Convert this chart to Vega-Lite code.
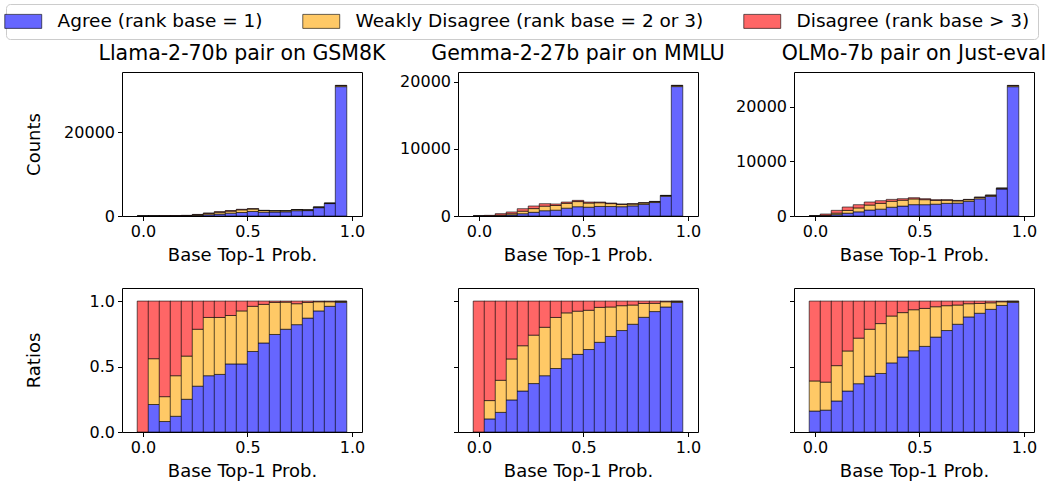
{
  "$schema": "https://vega.github.io/schema/vega-lite/v6.json",
  "padding": {"left": 5, "top": 3, "right": 5, "bottom": 5},
  "datasets": {
    "d": [
      {"model":"Llama-2-70b","prob":0,"cat":"Agree (rank base = 1)","count":0,"ratio":0},
      {"model":"Llama-2-70b","prob":0,"cat":"Weakly Disagree (rank base = 2 or 3)","count":0,"ratio":0},
      {"model":"Llama-2-70b","prob":0,"cat":"Disagree (rank base > 3)","count":10,"ratio":1},
      {"model":"Llama-2-70b","prob":0.0526,"cat":"Agree (rank base = 1)","count":6,"ratio":0.21},
      {"model":"Llama-2-70b","prob":0.0526,"cat":"Weakly Disagree (rank base = 2 or 3)","count":11,"ratio":0.35},
      {"model":"Llama-2-70b","prob":0.0526,"cat":"Disagree (rank base > 3)","count":13,"ratio":0.44},
      {"model":"Llama-2-70b","prob":0.1053,"cat":"Agree (rank base = 1)","count":5,"ratio":0.08},
      {"model":"Llama-2-70b","prob":0.1053,"cat":"Weakly Disagree (rank base = 2 or 3)","count":11,"ratio":0.19},
      {"model":"Llama-2-70b","prob":0.1053,"cat":"Disagree (rank base > 3)","count":44,"ratio":0.73},
      {"model":"Llama-2-70b","prob":0.1579,"cat":"Agree (rank base = 1)","count":11,"ratio":0.12},
      {"model":"Llama-2-70b","prob":0.1579,"cat":"Weakly Disagree (rank base = 2 or 3)","count":28,"ratio":0.31},
      {"model":"Llama-2-70b","prob":0.1579,"cat":"Disagree (rank base > 3)","count":51,"ratio":0.57},
      {"model":"Llama-2-70b","prob":0.2105,"cat":"Agree (rank base = 1)","count":40,"ratio":0.25},
      {"model":"Llama-2-70b","prob":0.2105,"cat":"Weakly Disagree (rank base = 2 or 3)","count":53,"ratio":0.33},
      {"model":"Llama-2-70b","prob":0.2105,"cat":"Disagree (rank base > 3)","count":67,"ratio":0.42},
      {"model":"Llama-2-70b","prob":0.2632,"cat":"Agree (rank base = 1)","count":133,"ratio":0.35},
      {"model":"Llama-2-70b","prob":0.2632,"cat":"Weakly Disagree (rank base = 2 or 3)","count":165,"ratio":0.435},
      {"model":"Llama-2-70b","prob":0.2632,"cat":"Disagree (rank base > 3)","count":82,"ratio":0.215},
      {"model":"Llama-2-70b","prob":0.3158,"cat":"Agree (rank base = 1)","count":305,"ratio":0.43},
      {"model":"Llama-2-70b","prob":0.3158,"cat":"Weakly Disagree (rank base = 2 or 3)","count":316,"ratio":0.445},
      {"model":"Llama-2-70b","prob":0.3158,"cat":"Disagree (rank base > 3)","count":89,"ratio":0.125},
      {"model":"Llama-2-70b","prob":0.3684,"cat":"Agree (rank base = 1)","count":453,"ratio":0.44},
      {"model":"Llama-2-70b","prob":0.3684,"cat":"Weakly Disagree (rank base = 2 or 3)","count":448,"ratio":0.435},
      {"model":"Llama-2-70b","prob":0.3684,"cat":"Disagree (rank base > 3)","count":129,"ratio":0.125},
      {"model":"Llama-2-70b","prob":0.4211,"cat":"Agree (rank base = 1)","count":676,"ratio":0.52},
      {"model":"Llama-2-70b","prob":0.4211,"cat":"Weakly Disagree (rank base = 2 or 3)","count":481,"ratio":0.37},
      {"model":"Llama-2-70b","prob":0.4211,"cat":"Disagree (rank base > 3)","count":143,"ratio":0.11},
      {"model":"Llama-2-70b","prob":0.4737,"cat":"Agree (rank base = 1)","count":832,"ratio":0.52},
      {"model":"Llama-2-70b","prob":0.4737,"cat":"Weakly Disagree (rank base = 2 or 3)","count":648,"ratio":0.405},
      {"model":"Llama-2-70b","prob":0.4737,"cat":"Disagree (rank base > 3)","count":120,"ratio":0.075},
      {"model":"Llama-2-70b","prob":0.5263,"cat":"Agree (rank base = 1)","count":1076,"ratio":0.615},
      {"model":"Llama-2-70b","prob":0.5263,"cat":"Weakly Disagree (rank base = 2 or 3)","count":604,"ratio":0.345},
      {"model":"Llama-2-70b","prob":0.5263,"cat":"Disagree (rank base > 3)","count":70,"ratio":0.04},
      {"model":"Llama-2-70b","prob":0.5789,"cat":"Agree (rank base = 1)","count":918,"ratio":0.68},
      {"model":"Llama-2-70b","prob":0.5789,"cat":"Weakly Disagree (rank base = 2 or 3)","count":398,"ratio":0.295},
      {"model":"Llama-2-70b","prob":0.5789,"cat":"Disagree (rank base > 3)","count":34,"ratio":0.025},
      {"model":"Llama-2-70b","prob":0.6316,"cat":"Agree (rank base = 1)","count":946,"ratio":0.745},
      {"model":"Llama-2-70b","prob":0.6316,"cat":"Weakly Disagree (rank base = 2 or 3)","count":311,"ratio":0.245},
      {"model":"Llama-2-70b","prob":0.6316,"cat":"Disagree (rank base > 3)","count":13,"ratio":0.01},
      {"model":"Llama-2-70b","prob":0.6842,"cat":"Agree (rank base = 1)","count":997,"ratio":0.785},
      {"model":"Llama-2-70b","prob":0.6842,"cat":"Weakly Disagree (rank base = 2 or 3)","count":263,"ratio":0.207},
      {"model":"Llama-2-70b","prob":0.6842,"cat":"Disagree (rank base > 3)","count":10,"ratio":0.008},
      {"model":"Llama-2-70b","prob":0.7368,"cat":"Agree (rank base = 1)","count":1271,"ratio":0.82},
      {"model":"Llama-2-70b","prob":0.7368,"cat":"Weakly Disagree (rank base = 2 or 3)","count":248,"ratio":0.16},
      {"model":"Llama-2-70b","prob":0.7368,"cat":"Disagree (rank base > 3)","count":31,"ratio":0.02},
      {"model":"Llama-2-70b","prob":0.7895,"cat":"Agree (rank base = 1)","count":1288,"ratio":0.87},
      {"model":"Llama-2-70b","prob":0.7895,"cat":"Weakly Disagree (rank base = 2 or 3)","count":178,"ratio":0.12},
      {"model":"Llama-2-70b","prob":0.7895,"cat":"Disagree (rank base > 3)","count":14,"ratio":0.01},
      {"model":"Llama-2-70b","prob":0.8421,"cat":"Agree (rank base = 1)","count":1989,"ratio":0.925},
      {"model":"Llama-2-70b","prob":0.8421,"cat":"Weakly Disagree (rank base = 2 or 3)","count":150,"ratio":0.07},
      {"model":"Llama-2-70b","prob":0.8421,"cat":"Disagree (rank base > 3)","count":11,"ratio":0.005},
      {"model":"Llama-2-70b","prob":0.8947,"cat":"Agree (rank base = 1)","count":2966,"ratio":0.96},
      {"model":"Llama-2-70b","prob":0.8947,"cat":"Weakly Disagree (rank base = 2 or 3)","count":108,"ratio":0.035},
      {"model":"Llama-2-70b","prob":0.8947,"cat":"Disagree (rank base > 3)","count":16,"ratio":0.005},
      {"model":"Llama-2-70b","prob":0.9474,"cat":"Agree (rank base = 1)","count":30868,"ratio":0.99},
      {"model":"Llama-2-70b","prob":0.9474,"cat":"Weakly Disagree (rank base = 2 or 3)","count":249,"ratio":0.008},
      {"model":"Llama-2-70b","prob":0.9474,"cat":"Disagree (rank base > 3)","count":63,"ratio":0.002},

      {"model":"Gemma-2-27b","prob":0,"cat":"Agree (rank base = 1)","count":0,"ratio":0},
      {"model":"Gemma-2-27b","prob":0,"cat":"Weakly Disagree (rank base = 2 or 3)","count":0,"ratio":0},
      {"model":"Gemma-2-27b","prob":0,"cat":"Disagree (rank base > 3)","count":10,"ratio":1},
      {"model":"Gemma-2-27b","prob":0.0526,"cat":"Agree (rank base = 1)","count":10,"ratio":0.10},
      {"model":"Gemma-2-27b","prob":0.0526,"cat":"Weakly Disagree (rank base = 2 or 3)","count":14,"ratio":0.14},
      {"model":"Gemma-2-27b","prob":0.0526,"cat":"Disagree (rank base > 3)","count":76,"ratio":0.76},
      {"model":"Gemma-2-27b","prob":0.1053,"cat":"Agree (rank base = 1)","count":53,"ratio":0.15},
      {"model":"Gemma-2-27b","prob":0.1053,"cat":"Weakly Disagree (rank base = 2 or 3)","count":86,"ratio":0.245},
      {"model":"Gemma-2-27b","prob":0.1053,"cat":"Disagree (rank base > 3)","count":211,"ratio":0.605},
      {"model":"Gemma-2-27b","prob":0.1579,"cat":"Agree (rank base = 1)","count":147,"ratio":0.245},
      {"model":"Gemma-2-27b","prob":0.1579,"cat":"Weakly Disagree (rank base = 2 or 3)","count":188,"ratio":0.313},
      {"model":"Gemma-2-27b","prob":0.1579,"cat":"Disagree (rank base > 3)","count":265,"ratio":0.442},
      {"model":"Gemma-2-27b","prob":0.2105,"cat":"Agree (rank base = 1)","count":341,"ratio":0.313},
      {"model":"Gemma-2-27b","prob":0.2105,"cat":"Weakly Disagree (rank base = 2 or 3)","count":377,"ratio":0.346},
      {"model":"Gemma-2-27b","prob":0.2105,"cat":"Disagree (rank base > 3)","count":372,"ratio":0.341},
      {"model":"Gemma-2-27b","prob":0.2632,"cat":"Agree (rank base = 1)","count":551,"ratio":0.37},
      {"model":"Gemma-2-27b","prob":0.2632,"cat":"Weakly Disagree (rank base = 2 or 3)","count":551,"ratio":0.37},
      {"model":"Gemma-2-27b","prob":0.2632,"cat":"Disagree (rank base > 3)","count":388,"ratio":0.26},
      {"model":"Gemma-2-27b","prob":0.3158,"cat":"Agree (rank base = 1)","count":789,"ratio":0.43},
      {"model":"Gemma-2-27b","prob":0.3158,"cat":"Weakly Disagree (rank base = 2 or 3)","count":679,"ratio":0.37},
      {"model":"Gemma-2-27b","prob":0.3158,"cat":"Disagree (rank base > 3)","count":367,"ratio":0.2},
      {"model":"Gemma-2-27b","prob":0.3684,"cat":"Agree (rank base = 1)","count":868,"ratio":0.485},
      {"model":"Gemma-2-27b","prob":0.3684,"cat":"Weakly Disagree (rank base = 2 or 3)","count":698,"ratio":0.39},
      {"model":"Gemma-2-27b","prob":0.3684,"cat":"Disagree (rank base > 3)","count":224,"ratio":0.125},
      {"model":"Gemma-2-27b","prob":0.4211,"cat":"Agree (rank base = 1)","count":1165,"ratio":0.56},
      {"model":"Gemma-2-27b","prob":0.4211,"cat":"Weakly Disagree (rank base = 2 or 3)","count":728,"ratio":0.35},
      {"model":"Gemma-2-27b","prob":0.4211,"cat":"Disagree (rank base > 3)","count":187,"ratio":0.09},
      {"model":"Gemma-2-27b","prob":0.4737,"cat":"Agree (rank base = 1)","count":1382,"ratio":0.593},
      {"model":"Gemma-2-27b","prob":0.4737,"cat":"Weakly Disagree (rank base = 2 or 3)","count":769,"ratio":0.33},
      {"model":"Gemma-2-27b","prob":0.4737,"cat":"Disagree (rank base > 3)","count":179,"ratio":0.077},
      {"model":"Gemma-2-27b","prob":0.5263,"cat":"Agree (rank base = 1)","count":1310,"ratio":0.63},
      {"model":"Gemma-2-27b","prob":0.5263,"cat":"Weakly Disagree (rank base = 2 or 3)","count":624,"ratio":0.3},
      {"model":"Gemma-2-27b","prob":0.5263,"cat":"Disagree (rank base > 3)","count":146,"ratio":0.07},
      {"model":"Gemma-2-27b","prob":0.5789,"cat":"Agree (rank base = 1)","count":1425,"ratio":0.685},
      {"model":"Gemma-2-27b","prob":0.5789,"cat":"Weakly Disagree (rank base = 2 or 3)","count":555,"ratio":0.267},
      {"model":"Gemma-2-27b","prob":0.5789,"cat":"Disagree (rank base > 3)","count":100,"ratio":0.048},
      {"model":"Gemma-2-27b","prob":0.6316,"cat":"Agree (rank base = 1)","count":1413,"ratio":0.73},
      {"model":"Gemma-2-27b","prob":0.6316,"cat":"Weakly Disagree (rank base = 2 or 3)","count":435,"ratio":0.225},
      {"model":"Gemma-2-27b","prob":0.6316,"cat":"Disagree (rank base > 3)","count":87,"ratio":0.045},
      {"model":"Gemma-2-27b","prob":0.6842,"cat":"Agree (rank base = 1)","count":1387,"ratio":0.775},
      {"model":"Gemma-2-27b","prob":0.6842,"cat":"Weakly Disagree (rank base = 2 or 3)","count":340,"ratio":0.19},
      {"model":"Gemma-2-27b","prob":0.6842,"cat":"Disagree (rank base > 3)","count":63,"ratio":0.035},
      {"model":"Gemma-2-27b","prob":0.7368,"cat":"Agree (rank base = 1)","count":1510,"ratio":0.823},
      {"model":"Gemma-2-27b","prob":0.7368,"cat":"Weakly Disagree (rank base = 2 or 3)","count":270,"ratio":0.147},
      {"model":"Gemma-2-27b","prob":0.7368,"cat":"Disagree (rank base > 3)","count":55,"ratio":0.03},
      {"model":"Gemma-2-27b","prob":0.7895,"cat":"Agree (rank base = 1)","count":1739,"ratio":0.876},
      {"model":"Gemma-2-27b","prob":0.7895,"cat":"Weakly Disagree (rank base = 2 or 3)","count":210,"ratio":0.106},
      {"model":"Gemma-2-27b","prob":0.7895,"cat":"Disagree (rank base > 3)","count":36,"ratio":0.018},
      {"model":"Gemma-2-27b","prob":0.8421,"cat":"Agree (rank base = 1)","count":2006,"ratio":0.92},
      {"model":"Gemma-2-27b","prob":0.8421,"cat":"Weakly Disagree (rank base = 2 or 3)","count":137,"ratio":0.063},
      {"model":"Gemma-2-27b","prob":0.8421,"cat":"Disagree (rank base > 3)","count":37,"ratio":0.017},
      {"model":"Gemma-2-27b","prob":0.8947,"cat":"Agree (rank base = 1)","count":2937,"ratio":0.955},
      {"model":"Gemma-2-27b","prob":0.8947,"cat":"Weakly Disagree (rank base = 2 or 3)","count":123,"ratio":0.04},
      {"model":"Gemma-2-27b","prob":0.8947,"cat":"Disagree (rank base > 3)","count":15,"ratio":0.005},
      {"model":"Gemma-2-27b","prob":0.9474,"cat":"Agree (rank base = 1)","count":19295,"ratio":0.99},
      {"model":"Gemma-2-27b","prob":0.9474,"cat":"Weakly Disagree (rank base = 2 or 3)","count":156,"ratio":0.008},
      {"model":"Gemma-2-27b","prob":0.9474,"cat":"Disagree (rank base > 3)","count":39,"ratio":0.002},

      {"model":"OLMo-7b","prob":0,"cat":"Agree (rank base = 1)","count":3,"ratio":0.16},
      {"model":"OLMo-7b","prob":0,"cat":"Weakly Disagree (rank base = 2 or 3)","count":5,"ratio":0.23},
      {"model":"OLMo-7b","prob":0,"cat":"Disagree (rank base > 3)","count":12,"ratio":0.61},
      {"model":"OLMo-7b","prob":0.0526,"cat":"Agree (rank base = 1)","count":61,"ratio":0.167},
      {"model":"OLMo-7b","prob":0.0526,"cat":"Weakly Disagree (rank base = 2 or 3)","count":78,"ratio":0.214},
      {"model":"OLMo-7b","prob":0.0526,"cat":"Disagree (rank base > 3)","count":226,"ratio":0.619},
      {"model":"OLMo-7b","prob":0.1053,"cat":"Agree (rank base = 1)","count":245,"ratio":0.237},
      {"model":"OLMo-7b","prob":0.1053,"cat":"Weakly Disagree (rank base = 2 or 3)","count":280,"ratio":0.27},
      {"model":"OLMo-7b","prob":0.1053,"cat":"Disagree (rank base > 3)","count":510,"ratio":0.493},
      {"model":"OLMo-7b","prob":0.1579,"cat":"Agree (rank base = 1)","count":515,"ratio":0.313},
      {"model":"OLMo-7b","prob":0.1579,"cat":"Weakly Disagree (rank base = 2 or 3)","count":503,"ratio":0.306},
      {"model":"OLMo-7b","prob":0.1579,"cat":"Disagree (rank base > 3)","count":627,"ratio":0.381},
      {"model":"OLMo-7b","prob":0.2105,"cat":"Agree (rank base = 1)","count":764,"ratio":0.369},
      {"model":"OLMo-7b","prob":0.2105,"cat":"Weakly Disagree (rank base = 2 or 3)","count":720,"ratio":0.348},
      {"model":"OLMo-7b","prob":0.2105,"cat":"Disagree (rank base > 3)","count":586,"ratio":0.283},
      {"model":"OLMo-7b","prob":0.2632,"cat":"Agree (rank base = 1)","count":1093,"ratio":0.427},
      {"model":"OLMo-7b","prob":0.2632,"cat":"Weakly Disagree (rank base = 2 or 3)","count":916,"ratio":0.358},
      {"model":"OLMo-7b","prob":0.2632,"cat":"Disagree (rank base > 3)","count":551,"ratio":0.215},
      {"model":"OLMo-7b","prob":0.3158,"cat":"Agree (rank base = 1)","count":1252,"ratio":0.447},
      {"model":"OLMo-7b","prob":0.3158,"cat":"Weakly Disagree (rank base = 2 or 3)","count":1067,"ratio":0.381},
      {"model":"OLMo-7b","prob":0.3158,"cat":"Disagree (rank base > 3)","count":481,"ratio":0.172},
      {"model":"OLMo-7b","prob":0.3684,"cat":"Agree (rank base = 1)","count":1608,"ratio":0.528},
      {"model":"OLMo-7b","prob":0.3684,"cat":"Weakly Disagree (rank base = 2 or 3)","count":1090,"ratio":0.358},
      {"model":"OLMo-7b","prob":0.3684,"cat":"Disagree (rank base > 3)","count":347,"ratio":0.114},
      {"model":"OLMo-7b","prob":0.4211,"cat":"Agree (rank base = 1)","count":1816,"ratio":0.573},
      {"model":"OLMo-7b","prob":0.4211,"cat":"Weakly Disagree (rank base = 2 or 3)","count":1075,"ratio":0.339},
      {"model":"OLMo-7b","prob":0.4211,"cat":"Disagree (rank base > 3)","count":279,"ratio":0.088},
      {"model":"OLMo-7b","prob":0.4737,"cat":"Agree (rank base = 1)","count":2080,"ratio":0.621},
      {"model":"OLMo-7b","prob":0.4737,"cat":"Weakly Disagree (rank base = 2 or 3)","count":1049,"ratio":0.313},
      {"model":"OLMo-7b","prob":0.4737,"cat":"Disagree (rank base > 3)","count":221,"ratio":0.066},
      {"model":"OLMo-7b","prob":0.5263,"cat":"Agree (rank base = 1)","count":2073,"ratio":0.654},
      {"model":"OLMo-7b","prob":0.5263,"cat":"Weakly Disagree (rank base = 2 or 3)","count":919,"ratio":0.29},
      {"model":"OLMo-7b","prob":0.5263,"cat":"Disagree (rank base > 3)","count":178,"ratio":0.056},
      {"model":"OLMo-7b","prob":0.5789,"cat":"Agree (rank base = 1)","count":2164,"ratio":0.725},
      {"model":"OLMo-7b","prob":0.5789,"cat":"Weakly Disagree (rank base = 2 or 3)","count":693,"ratio":0.232},
      {"model":"OLMo-7b","prob":0.5789,"cat":"Disagree (rank base > 3)","count":128,"ratio":0.043},
      {"model":"OLMo-7b","prob":0.6316,"cat":"Agree (rank base = 1)","count":2313,"ratio":0.775},
      {"model":"OLMo-7b","prob":0.6316,"cat":"Weakly Disagree (rank base = 2 or 3)","count":567,"ratio":0.19},
      {"model":"OLMo-7b","prob":0.6316,"cat":"Disagree (rank base > 3)","count":105,"ratio":0.035},
      {"model":"OLMo-7b","prob":0.6842,"cat":"Agree (rank base = 1)","count":2354,"ratio":0.823},
      {"model":"OLMo-7b","prob":0.6842,"cat":"Weakly Disagree (rank base = 2 or 3)","count":420,"ratio":0.147},
      {"model":"OLMo-7b","prob":0.6842,"cat":"Disagree (rank base > 3)","count":86,"ratio":0.03},
      {"model":"OLMo-7b","prob":0.7368,"cat":"Agree (rank base = 1)","count":2677,"ratio":0.879},
      {"model":"OLMo-7b","prob":0.7368,"cat":"Weakly Disagree (rank base = 2 or 3)","count":308,"ratio":0.101},
      {"model":"OLMo-7b","prob":0.7368,"cat":"Disagree (rank base > 3)","count":61,"ratio":0.02},
      {"model":"OLMo-7b","prob":0.7895,"cat":"Agree (rank base = 1)","count":3147,"ratio":0.907},
      {"model":"OLMo-7b","prob":0.7895,"cat":"Weakly Disagree (rank base = 2 or 3)","count":260,"ratio":0.075},
      {"model":"OLMo-7b","prob":0.7895,"cat":"Disagree (rank base > 3)","count":63,"ratio":0.018},
      {"model":"OLMo-7b","prob":0.8421,"cat":"Agree (rank base = 1)","count":3593,"ratio":0.937},
      {"model":"OLMo-7b","prob":0.8421,"cat":"Weakly Disagree (rank base = 2 or 3)","count":192,"ratio":0.05},
      {"model":"OLMo-7b","prob":0.8421,"cat":"Disagree (rank base > 3)","count":50,"ratio":0.013},
      {"model":"OLMo-7b","prob":0.8947,"cat":"Agree (rank base = 1)","count":4946,"ratio":0.967},
      {"model":"OLMo-7b","prob":0.8947,"cat":"Weakly Disagree (rank base = 2 or 3)","count":143,"ratio":0.028},
      {"model":"OLMo-7b","prob":0.8947,"cat":"Disagree (rank base > 3)","count":26,"ratio":0.005},
      {"model":"OLMo-7b","prob":0.9474,"cat":"Agree (rank base = 1)","count":23690,"ratio":0.99},
      {"model":"OLMo-7b","prob":0.9474,"cat":"Weakly Disagree (rank base = 2 or 3)","count":192,"ratio":0.008},
      {"model":"OLMo-7b","prob":0.9474,"cat":"Disagree (rank base > 3)","count":48,"ratio":0.002}
    ]
  },
  "data": {"name": "d"},
  "transform": [{"calculate": "indexof(['Agree (rank base = 1)', 'Weakly Disagree (rank base = 2 or 3)', 'Disagree (rank base > 3)'], datum.cat)", "as": "stackorder"}],
  "columns": 3,
  "bounds": "flush",
  "spacing": {"row": 72, "column": 96},
  "resolve": {"scale": {"color": "shared", "x": "independent", "y": "independent"}, "legend": {"color": "shared"}},
  "config": {
    "font": "DejaVu Sans",
    "view": {"stroke": "black", "strokeWidth": 1, "fill": "white"},
    "axis": {"domain": false, "grid": false, "labelFontSize": 16, "titleFontSize": 18, "labelColor": "black", "titleColor": "black", "tickColor": "black", "tickSize": 4.5, "labelPadding": 3, "titleFontWeight": "normal", "labelFont": "DejaVu Sans", "titleFont": "DejaVu Sans"},
    "axisX": {"titlePadding": 7},
    "title": {"fontSize": 20.5, "fontWeight": "normal", "color": "black", "offset": 8, "font": "DejaVu Sans"},
    "legend": {"orient": "none", "legendX": -116, "legendY": -68, "direction": "horizontal", "columns": 3, "strokeColor": "#cccccc", "fillColor": "white", "cornerRadius": 4, "padding": 8, "labelFontSize": 18.5, "labelFont": "DejaVu Sans", "labelColor": "black", "labelOffset": 25, "columnPadding": 37, "symbolType": "M-2.64,-1L2.64,-1L2.64,1L-2.64,1Z", "symbolSize": 196, "symbolStrokeColor": "rgba(0,0,0,0.6)", "symbolStrokeWidth": 1, "symbolOpacity": 1, "labelLimit": 500, "title": null}
  },
  "concat": [
    {
      "width": 240, "height": 144,
      "title": "Llama-2-70b pair on GSM8K",
      "transform": [{"filter": "datum.model === 'Llama-2-70b'"}],
      "mark": {"type": "bar", "width": 11.48, "stroke": "black", "strokeOpacity": 0.6, "strokeWidth": 1},
      "encoding": {
        "x": {"field": "prob", "type": "quantitative", "scale": {"domain": [-0.0763, 1.0237], "nice": false, "zero": false}, "axis": {"values": [0, 0.5, 1], "format": ".1f", "title": "Base Top-1 Prob."}},
        "y": {"field": "count", "type": "quantitative", "stack": "zero", "scale": {"domain": [0, 34360], "nice": false}, "axis": {"values": [0, 20000], "format": "d", "title": "Counts", "titleX": -88, "titleY": 72, "titleBaseline": "middle"}},
        "color": {"field": "cat", "type": "nominal", "scale": {"domain": ["Agree (rank base = 1)", "Weakly Disagree (rank base = 2 or 3)", "Disagree (rank base > 3)"], "range": ["#6666ff", "#ffc966", "#ff6666"]}, "legend": {"title": null}},
        "order": {"field": "stackorder", "type": "quantitative", "sort": "ascending"}
      }
    },
    {
      "width": 240, "height": 144,
      "title": "Gemma-2-27b pair on MMLU",
      "transform": [{"filter": "datum.model === 'Gemma-2-27b'"}],
      "mark": {"type": "bar", "width": 11.48, "stroke": "black", "strokeOpacity": 0.6, "strokeWidth": 1},
      "encoding": {
        "x": {"field": "prob", "type": "quantitative", "scale": {"domain": [-0.0763, 1.0237], "nice": false, "zero": false}, "axis": {"values": [0, 0.5, 1], "format": ".1f", "title": "Base Top-1 Prob."}},
        "y": {"field": "count", "type": "quantitative", "stack": "zero", "scale": {"domain": [0, 21470], "nice": false}, "axis": {"values": [0, 10000, 20000], "format": "d", "title": null}},
        "color": {"field": "cat", "type": "nominal", "scale": {"domain": ["Agree (rank base = 1)", "Weakly Disagree (rank base = 2 or 3)", "Disagree (rank base > 3)"], "range": ["#6666ff", "#ffc966", "#ff6666"]}, "legend": {"title": null}},
        "order": {"field": "stackorder", "type": "quantitative", "sort": "ascending"}
      }
    },
    {
      "width": 240, "height": 144,
      "title": "OLMo-7b pair on Just-eval",
      "transform": [{"filter": "datum.model === 'OLMo-7b'"}],
      "mark": {"type": "bar", "width": 11.48, "stroke": "black", "strokeOpacity": 0.6, "strokeWidth": 1},
      "encoding": {
        "x": {"field": "prob", "type": "quantitative", "scale": {"domain": [-0.0763, 1.0237], "nice": false, "zero": false}, "axis": {"values": [0, 0.5, 1], "format": ".1f", "title": "Base Top-1 Prob."}},
        "y": {"field": "count", "type": "quantitative", "stack": "zero", "scale": {"domain": [0, 26380], "nice": false}, "axis": {"values": [0, 10000, 20000], "format": "d", "title": null}},
        "color": {"field": "cat", "type": "nominal", "scale": {"domain": ["Agree (rank base = 1)", "Weakly Disagree (rank base = 2 or 3)", "Disagree (rank base > 3)"], "range": ["#6666ff", "#ffc966", "#ff6666"]}, "legend": {"title": null}},
        "order": {"field": "stackorder", "type": "quantitative", "sort": "ascending"}
      }
    },
    {
      "width": 240, "height": 144,
      "transform": [{"filter": "datum.model === 'Llama-2-70b'"}],
      "mark": {"type": "bar", "width": 11.48, "stroke": "black", "strokeOpacity": 0.6, "strokeWidth": 1},
      "encoding": {
        "x": {"field": "prob", "type": "quantitative", "scale": {"domain": [-0.0763, 1.0237], "nice": false, "zero": false}, "axis": {"values": [0, 0.5, 1], "format": ".1f", "title": "Base Top-1 Prob."}},
        "y": {"field": "ratio", "type": "quantitative", "stack": "zero", "scale": {"domain": [0, 1.1], "nice": false}, "axis": {"values": [0, 0.5, 1], "format": ".1f", "title": "Ratios", "titleX": -88, "titleY": 72, "titleBaseline": "middle"}},
        "color": {"field": "cat", "type": "nominal", "scale": {"domain": ["Agree (rank base = 1)", "Weakly Disagree (rank base = 2 or 3)", "Disagree (rank base > 3)"], "range": ["#6666ff", "#ffc966", "#ff6666"]}, "legend": {"title": null}},
        "order": {"field": "stackorder", "type": "quantitative", "sort": "ascending"}
      }
    },
    {
      "width": 240, "height": 144,
      "transform": [{"filter": "datum.model === 'Gemma-2-27b'"}],
      "mark": {"type": "bar", "width": 11.48, "stroke": "black", "strokeOpacity": 0.6, "strokeWidth": 1},
      "encoding": {
        "x": {"field": "prob", "type": "quantitative", "scale": {"domain": [-0.0763, 1.0237], "nice": false, "zero": false}, "axis": {"values": [0, 0.5, 1], "format": ".1f", "title": "Base Top-1 Prob."}},
        "y": {"field": "ratio", "type": "quantitative", "stack": "zero", "scale": {"domain": [0, 1.1], "nice": false}, "axis": {"values": [0, 0.5, 1], "labels": false, "title": null}},
        "color": {"field": "cat", "type": "nominal", "scale": {"domain": ["Agree (rank base = 1)", "Weakly Disagree (rank base = 2 or 3)", "Disagree (rank base > 3)"], "range": ["#6666ff", "#ffc966", "#ff6666"]}, "legend": {"title": null}},
        "order": {"field": "stackorder", "type": "quantitative", "sort": "ascending"}
      }
    },
    {
      "width": 240, "height": 144,
      "transform": [{"filter": "datum.model === 'OLMo-7b'"}],
      "mark": {"type": "bar", "width": 11.48, "stroke": "black", "strokeOpacity": 0.6, "strokeWidth": 1},
      "encoding": {
        "x": {"field": "prob", "type": "quantitative", "scale": {"domain": [-0.0763, 1.0237], "nice": false, "zero": false}, "axis": {"values": [0, 0.5, 1], "format": ".1f", "title": "Base Top-1 Prob."}},
        "y": {"field": "ratio", "type": "quantitative", "stack": "zero", "scale": {"domain": [0, 1.1], "nice": false}, "axis": {"values": [0, 0.5, 1], "labels": false, "title": null}},
        "color": {"field": "cat", "type": "nominal", "scale": {"domain": ["Agree (rank base = 1)", "Weakly Disagree (rank base = 2 or 3)", "Disagree (rank base > 3)"], "range": ["#6666ff", "#ffc966", "#ff6666"]}, "legend": {"title": null}},
        "order": {"field": "stackorder", "type": "quantitative", "sort": "ascending"}
      }
    }
  ]
}
